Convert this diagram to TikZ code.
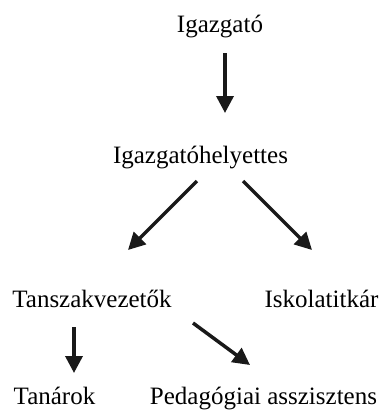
\documentclass[tikz,border=0pt]{standalone}
\usepackage{fontspec}
\setmainfont{Liberation Serif}
\usetikzlibrary{arrows.meta}
\begin{document}
\begin{tikzpicture}[x=1pt,y=-1pt,
        lbl/.style={inner sep=0pt,anchor=base,font=\fontsize{25}{30}\selectfont},
        arr/.style={line width=3.5pt,-{Triangle[length=17pt,width=17pt]},color=black!90}]
        \useasboundingbox (0,0) rectangle (382,410);
        \node[lbl] (igazgato) at (220,32) {Igazgató};
        \node[lbl] (helyettes) at (200.5,163) {Igazgatóhelyettes};
        \node[lbl] (tanszak) at (92,307) {Tanszakvezetők};
        \node[lbl] (titkar) at (321.5,307) {Iskolatitkár};
        \node[lbl] (tanarok) at (54.5,404) {Tanárok};
        \node[lbl] (pedagogia) at (263.5,404) {Pedagógiai asszisztens};
        \draw[arr] ([shift={(5,21)}]igazgato.base) -- ([shift={(24.5,-50)}]helyettes.base);
        \draw[arr] ([shift={(-3.5,18)}]helyettes.base) -- ([shift={(36,-57)}]tanszak.base);
        \draw[arr] ([shift={(42.5,18)}]helyettes.base) -- ([shift={(-9.5,-57)}]titkar.base);
        \draw[arr] ([shift={(-18,20)}]tanszak.base) -- ([shift={(19.5,-31)}]tanarok.base);
        \draw[arr] ([shift={(101,16)}]tanszak.base) -- ([shift={(-13.5,-39)}]pedagogia.base);
    \end{tikzpicture}
\end{document}
